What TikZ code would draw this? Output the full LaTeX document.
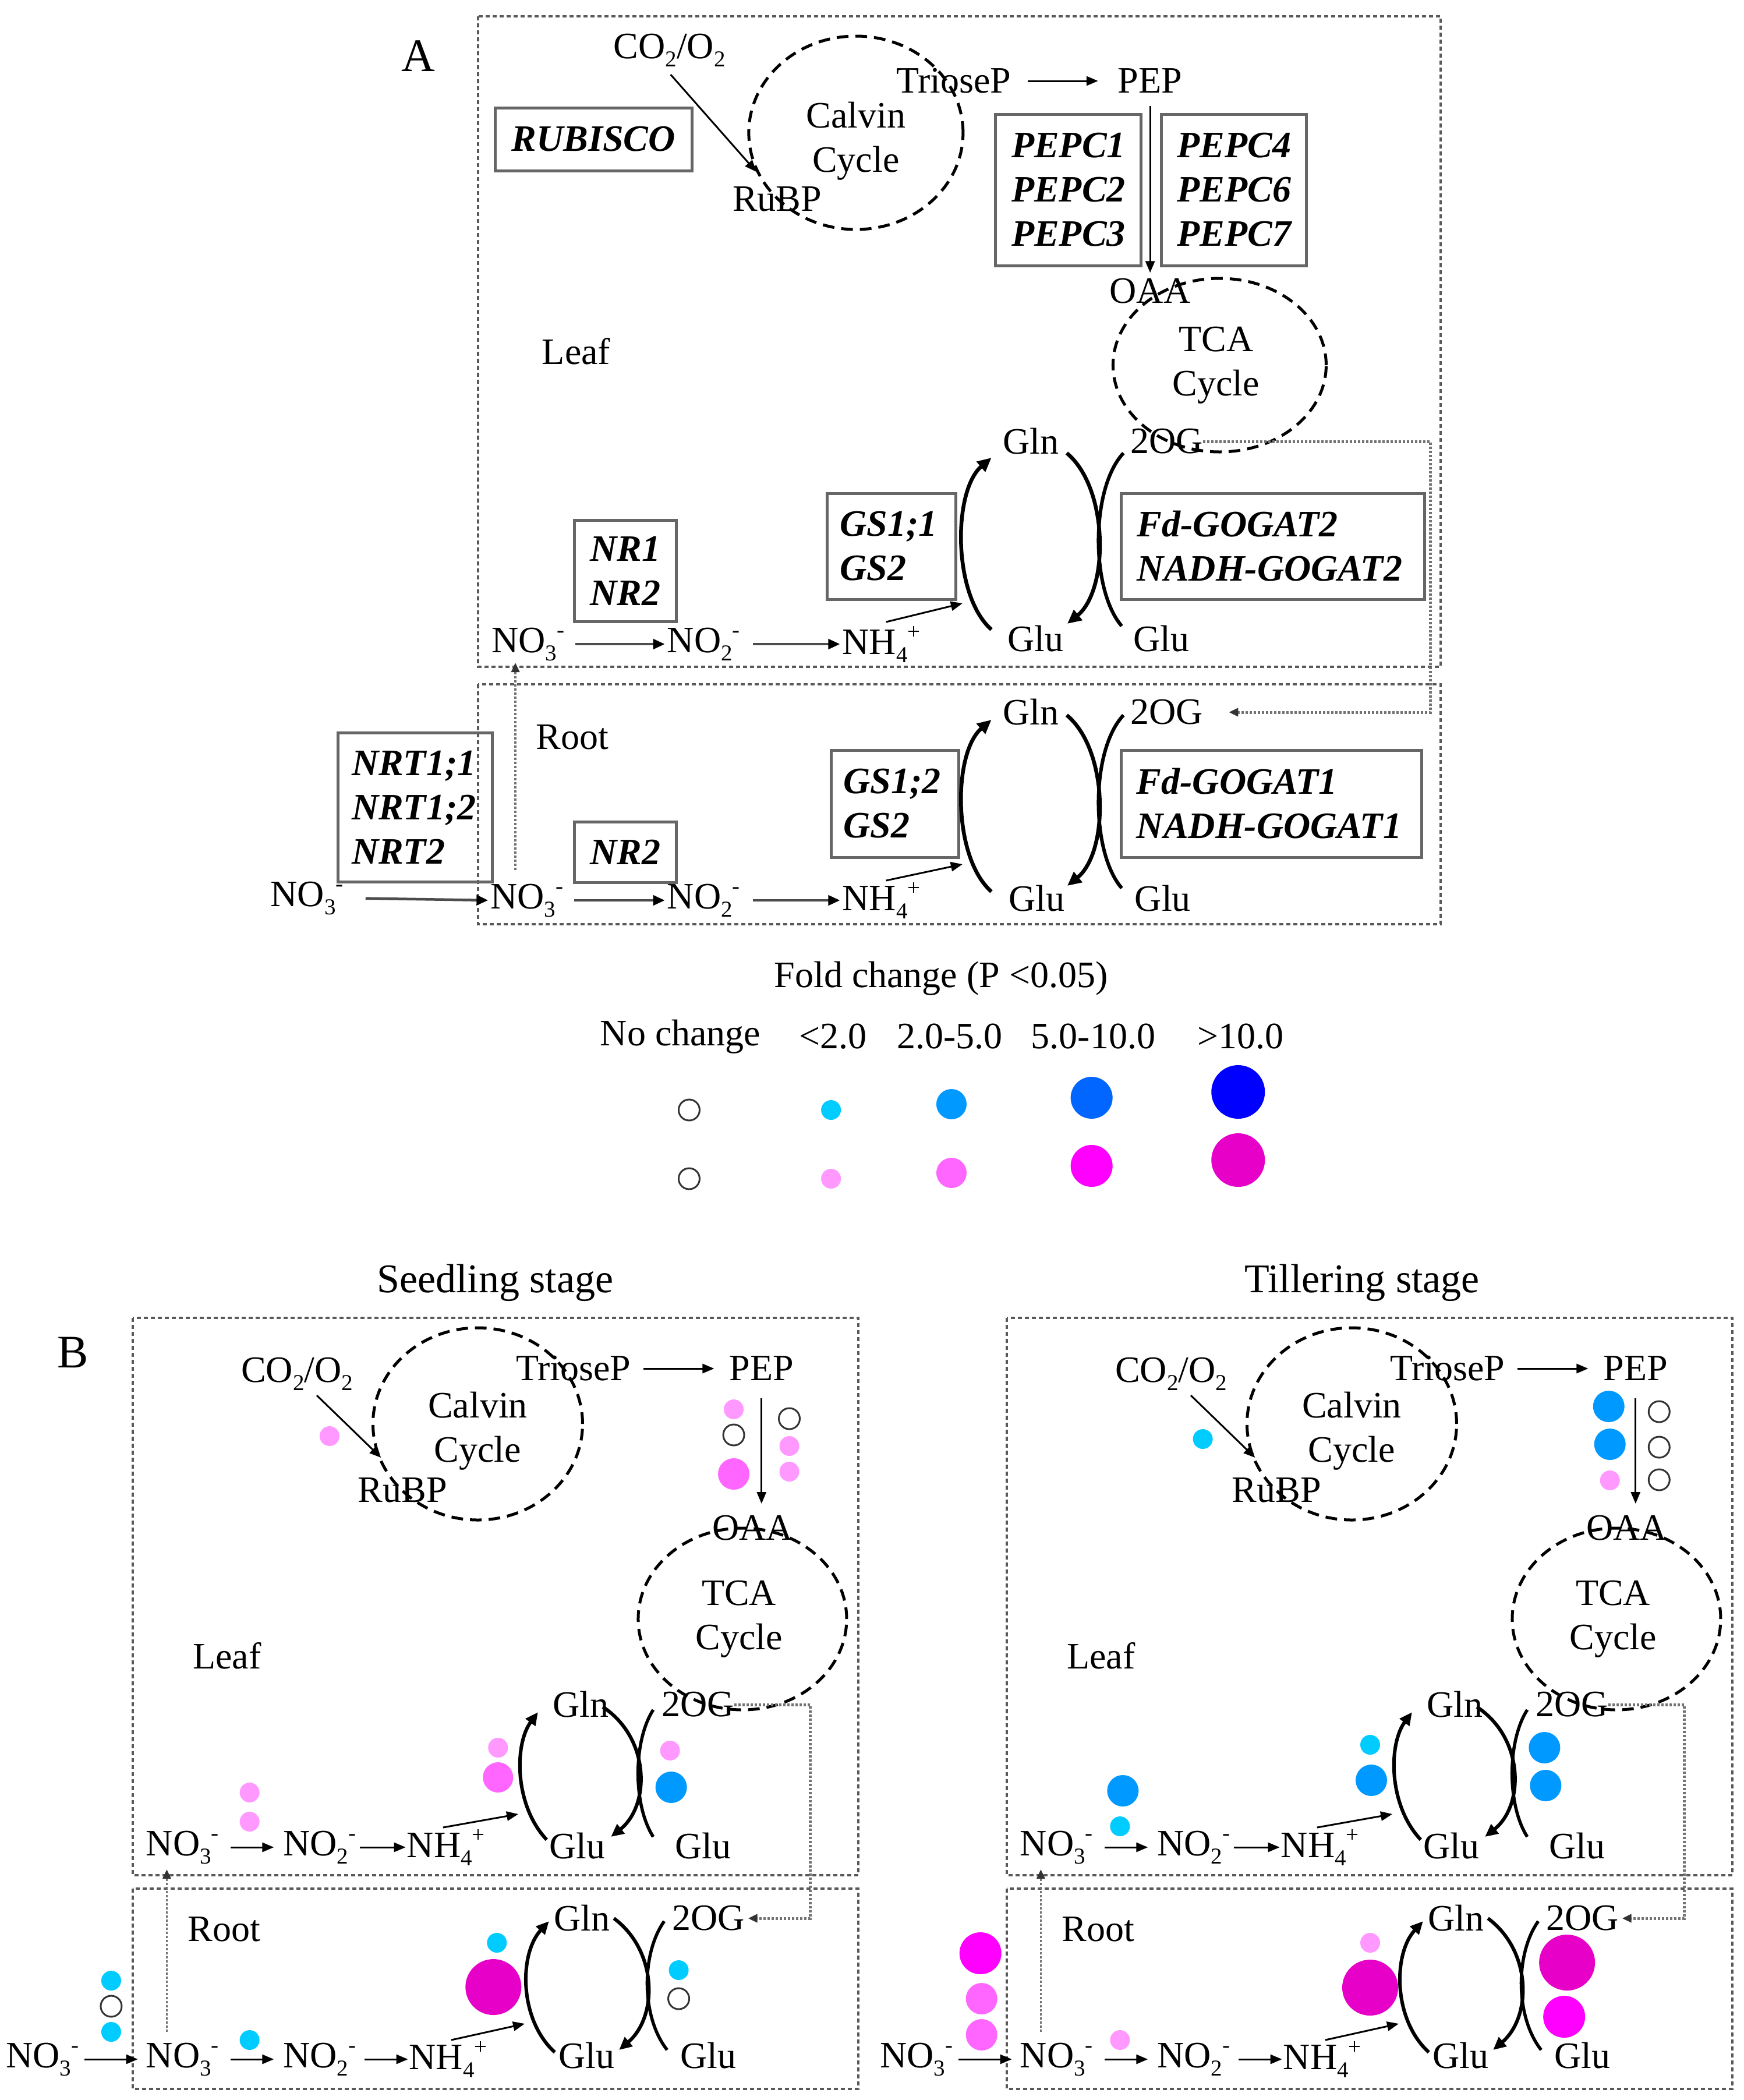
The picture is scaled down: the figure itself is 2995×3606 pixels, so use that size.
\documentclass[tikz,border=0pt]{standalone}
\usepackage{fontspec}
\setmainfont{Liberation Serif}
\usetikzlibrary{arrows.meta}
\definecolor{bS}{HTML}{00CCFF}
\definecolor{bM}{HTML}{0099FF}
\definecolor{bL}{HTML}{0066FF}
\definecolor{bX}{HTML}{0000FF}
\definecolor{pS}{HTML}{FF99FF}
\definecolor{pM}{HTML}{FF66FF}
\definecolor{pL}{HTML}{FF00FF}
\definecolor{pX}{HTML}{E600C8}
\newcommand\fs{\fontsize{64}{76}\selectfont}
\newcommand\mydn[1]{\raisebox{-14pt}{\fontsize{39}{39}\selectfont #1}}
\newcommand\myup[1]{\raisebox{26pt}{\fontsize{39}{39}\selectfont #1}}
\newcommand\nothree{NO\mydn{3}\myup{-}}
\newcommand\notwo{NO\mydn{2}\myup{-}}
\newcommand\nhfour{NH\mydn{4}\myup{+}}
\newcommand\cotwo{CO\mydn{2}/O\mydn{2}}
\newcommand\spot[3]{\fill[#1] (#2) circle (#3pt);}
\newcommand\ospot[1]{\draw[black!80, line width=3pt] (#1) circle (18pt);}
\tikzset{
  txt/.style={font=\fs, inner sep=0pt, anchor=center},
  genebox/.style={draw=black!60, line width=5pt, font=\fs\bfseries\itshape, inner sep=0pt},
  region/.style={draw=black!65, line width=4pt, dash pattern=on 7pt off 5pt},
  cyc/.style={draw=black, line width=5pt, dash pattern=on 20pt off 12pt},
  thinarr/.style={line width=3pt, -{Triangle[length=20pt,width=16pt]}},
  tharr/.style={line width=4.5pt, black!70, -{Triangle[length=20pt,width=17pt,color=black]}},
  dotc/.style={draw=black!55, line width=5pt, dash pattern=on 4pt off 3pt, -{Triangle[length=16pt,width=14pt,color=black!80]}},
  arcarr/.style={line width=6.5pt, -{Triangle[length=24pt,width=22pt]}},
  arcpl/.style={line width=6pt},
  barcarr/.style={line width=6pt, -{Triangle[length=22pt,width=20pt]}},
  barcpl/.style={line width=5.5pt},
}
\newcommand\panelB{%
  \draw[region] (229,2263) rectangle (1482,3220);
  \draw[region] (229,3243) rectangle (1482,3587);
  \node[txt] (co2) at (513,2359) {\cotwo};
  \draw[cyc] (825,2445) ellipse [x radius=180pt, y radius=165pt];
  \node[txt, align=center] (calv) at (825,2457) {Calvin\\Cycle};
  \node[txt] (rubp) at (695,2559) {RuBP};
  \coordinate (c2s) at (547,2396); \coordinate (c2e) at (658,2503);
  \draw[thinarr] (c2s) -- (c2e);
  \node[txt] (trio) at (990,2350) {TrioseP};
  \node[txt] (pep) at (1315,2350) {PEP};
  \draw[thinarr, shorten <=22pt, shorten >=26pt] (trio.east) -- (pep.west);
  \node[txt] (oaa) at (1300,2624) {OAA};
  \coordinate (pepS) at (1315,2401); \coordinate (oaaN) at (1315,2582);
  \draw[thinarr] (pepS) -- (oaaN);
  \draw[cyc] (1282,2780) ellipse [x radius=179pt, y radius=156pt];
  \node[txt, align=center] (tca) at (1276,2780) {TCA\\Cycle};
  \node[txt] (leaf) at (392,2843) {Leaf};
  \node[txt] (gln) at (1003,2927) {Gln};
  \node[txt] (og) at (1205,2927) {2OG};
  \node[txt] (no3) at (315,3172) {\nothree};
  \node[txt] (no2) at (552,3172) {\notwo};
  \node[txt] (nh4) at (770,3172) {\nhfour};
  \draw[thinarr, shorten <=20pt, shorten >=16pt] (no3.east) -- (no2.west);
  \draw[thinarr, shorten <=6pt, shorten >=2pt] (no2.east) -- (nh4.west);
  \coordinate (n4s) at (765,3138); \coordinate (n4e) at (895,3115);
  \draw[thinarr] (n4s) -- (n4e);
  \node[txt] (glu1) at (997,3170) {Glu};
  \node[txt] (glu2) at (1214,3170) {Glu};
  \draw[barcarr] (944,3159) .. controls (888,3100) and (888,2995) .. (929,2940);
  \draw[barcarr] (1041,2931) .. controls (1123,2985) and (1123,3100) .. (1055,3154);
  \draw[barcpl] (1128,2936) .. controls (1093,2990) and (1093,3100) .. (1128,3154);
  \node[txt] (root) at (387,3313) {Root};
  \node[txt] (rgln) at (1005,3294) {Gln};
  \node[txt] (rog) at (1223,3294) {2OG};
  \coordinate (dvx) at (1399,3294);
  \draw[dotc, shorten >=6pt] (og.east) -| (dvx) -- (rog.east);
  \node[txt] (ono3) at (73,3536) {\nothree};
  \node[txt] (rno3) at (315,3536) {\nothree};
  \node[txt] (rno2) at (552,3536) {\notwo};
  \node[txt] (rnh4) at (774,3536) {\nhfour};
  \draw[thinarr, shorten <=10pt, shorten >=14pt] (ono3.east) -- (rno3.west);
  \draw[thinarr, shorten <=20pt, shorten >=16pt] (rno3.east) -- (rno2.west);
  \draw[thinarr, shorten <=14pt, shorten >=2pt] (rno2.east) -- (rnh4.west);
  \coordinate (r4s) at (779,3503); \coordinate (r4e) at (906,3475);
  \draw[thinarr] (r4s) -- (r4e);
  \node[txt] (rglu1) at (1013,3530) {Glu};
  \node[txt] (rglu2) at (1223,3530) {Glu};
  \coordinate (vus) at (288,3489); \coordinate (vue) at (288,3210);
  \draw[dotc, line width=3.5pt] (vus) -- (vue);
  \draw[barcarr] (958,3524) .. controls (896,3468) and (896,3355) .. (948,3299);
  \draw[barcarr] (1060,3294) .. controls (1136,3350) and (1136,3463) .. (1069,3520);
  \draw[barcpl] (1147,3299) .. controls (1107,3355) and (1107,3463) .. (1152,3520);
}
\begin{document}
\begin{tikzpicture}[x=0.9945pt,y=-1pt]
\useasboundingbox (0pt,0pt) rectangle (2995pt,-3606pt);
\fill[white] (0pt,0pt) rectangle (2995pt,-3606pt);
% ---------------- Panel A ----------------
\node[txt, font=\fontsize{80}{90}\selectfont] (labA) at (722,96) {A};
\draw[region] (826,28) rectangle (2488,1145);
\draw[region] (826,1175) rectangle (2488,1587);
\node[txt] (aco2) at (1156,86) {\cotwo};
\draw[cyc] (1478,228) ellipse [x radius=184pt, y radius=166pt];
\node[txt, align=center] (acalv) at (1478,242) {Calvin\\Cycle};
\node[txt] (arubp) at (1342,342) {RuBP};
\coordinate (aco2s) at (1158,128); \coordinate (arubpn) at (1306,295);
\draw[thinarr] (aco2s) -- (arubpn);
\node[txt] (atrio) at (1647,139) {TrioseP};
\node[txt] (apep) at (1986,139) {PEP};
\draw[thinarr, shorten <=28pt, shorten >=34pt] (atrio.east) -- (apep.west);
\node[genebox, minimum width=338pt, minimum height=108pt] (arub) at (1025,239) {RUBISCO};
\node[genebox, minimum width=250pt, minimum height=260pt, align=center] (apepcA) at (1845,326) {PEPC1\\PEPC2\\PEPC3};
\node[genebox, minimum width=249pt, minimum height=260pt, align=center] (apepcB) at (2131,326) {PEPC4\\PEPC6\\PEPC7};
\node[txt] (aoaa) at (1986,500) {OAA};
\draw[thinarr, shorten <=22pt, shorten >=10pt] (apep.south) -- (aoaa.north);
\draw[cyc] (2106,627) ellipse [x radius=183pt, y radius=149pt];
\node[txt, align=center] (atca) at (2100,627) {TCA\\Cycle};
\node[txt] (aleaf) at (995,603) {Leaf};
\node[txt] (agln) at (1780,758) {Gln};
\node[txt] (aog) at (2015,758) {2OG};
\node[genebox, minimum width=221pt, minimum height=182pt, text width=176pt, align=left] (ags) at (1539,938) {GS1;1\\GS2};
\node[genebox, minimum width=521pt, minimum height=182pt, text width=466pt, align=left] (agog) at (2198,938) {Fd-GOGAT2\\NADH-GOGAT2};
\node[genebox, minimum width=175pt, minimum height=174pt, align=center] (anr) at (1080,980) {NR1\\NR2};
\node[txt] (ano3) at (912,1106) {\nothree};
\node[txt] (ano2) at (1215,1106) {\notwo};
\node[txt] (anh4) at (1522,1106) {\nhfour};
\draw[tharr, shorten <=18pt, shorten >=4pt] (ano3.east) -- (ano2.west);
\draw[tharr, shorten <=22pt, shorten >=4pt] (ano2.east) -- (anh4.west);
\coordinate (anhs) at (1530,1068); \coordinate (anhe) at (1662,1036);
\draw[thinarr] (anhs) -- (anhe);
\node[txt] (aglu1) at (1788,1097) {Glu};
\node[txt] (aglu2) at (2005,1097) {Glu};
\draw[arcarr] (1712,1081) .. controls (1645,1023) and (1645,843) .. (1712,786);
\draw[arcarr] (1842,778) .. controls (1915,838) and (1915,1013) .. (1843,1071);
\draw[arcpl] (1940,778) .. controls (1883,838) and (1883,1013) .. (1937,1075);
% root A
\node[txt] (aroot) at (988,1266) {Root};
\node[txt] (argln) at (1780,1223) {Gln};
\node[txt] (arog) at (2015,1223) {2OG};
\coordinate (adv) at (2470,1223);
\draw[dotc, shorten >=44pt] (aog.east) -| (adv) -- (arog.east);
\node[genebox, minimum width=219pt, minimum height=184pt, text width=176pt, align=left] (args) at (1545,1380) {GS1;2\\GS2};
\node[genebox, minimum width=516pt, minimum height=184pt, text width=464pt, align=left] (argog) at (2196,1380) {Fd-GOGAT1\\NADH-GOGAT1};
\node[genebox, minimum width=265pt, minimum height=256pt, text width=218pt, align=left] (anrt) at (717,1386) {NRT1;1\\NRT1;2\\NRT2};
\node[genebox, minimum width=175pt, minimum height=104pt, align=center] (arnr) at (1080,1463) {NR2};
\node[txt] (aono3) at (530,1542) {\nothree};
\node[txt] (arno3) at (910,1546) {\nothree};
\node[txt] (arno2) at (1215,1546) {\notwo};
\node[txt] (arnh4) at (1522,1546) {\nhfour};
\draw[tharr, shorten <=38pt, shorten >=4pt] (aono3.east) -- (arno3.west);
\draw[tharr, shorten <=18pt, shorten >=4pt] (arno3.east) -- (arno2.west);
\draw[tharr, shorten <=22pt, shorten >=4pt] (arno2.east) -- (arnh4.west);
\coordinate (arhs) at (1530,1512); \coordinate (arhe) at (1662,1484);
\draw[thinarr] (arhs) -- (arhe);
\node[txt] (arglu1) at (1790,1543) {Glu};
\node[txt] (arglu2) at (2008,1543) {Glu};
\coordinate (avs) at (890,1494); \coordinate (ave) at (890,1138);
\draw[dotc, line width=3.5pt] (avs) -- (ave);
\draw[arcarr] (1712,1531) .. controls (1645,1473) and (1645,1293) .. (1712,1236);
\draw[arcarr] (1842,1228) .. controls (1915,1288) and (1915,1463) .. (1843,1521);
\draw[arcpl] (1940,1228) .. controls (1883,1288) and (1883,1463) .. (1937,1525);
% ---------------- Legend ----------------
\node[txt] (lgt) at (1625,1680) {Fold change (P <0.05)};
\node[txt] (lg0) at (1175,1780) {No change};
\node[txt] (lg1) at (1438,1780) {<2.0};
\node[txt] (lg2) at (1640,1780) {2.0-5.0};
\node[txt] (lg3) at (1888,1780) {5.0-10.0};
\node[txt] (lg4) at (2142,1780) {>10.0};
\ospot{1190,1906}
\spot{bS}{1435,1906}{17}
\spot{bM}{1643,1896}{26}
\spot{bL}{1885,1885}{36}
\spot{bX}{2138,1875}{46}
\ospot{1190,2024}
\spot{pS}{1435,2024}{17}
\spot{pM}{1643,2014}{26}
\spot{pL}{1885,2002}{36}
\spot{pX}{2138,1992}{46}
% ---------------- Panel B ----------------
\node[txt, font=\fontsize{80}{90}\selectfont] (labB) at (126,2322) {B};
\node[txt, font=\fontsize{70}{80}\selectfont] (tseed) at (855,2203) {Seedling stage};
\node[txt, font=\fontsize{70}{80}\selectfont] (ttill) at (2352,2203) {Tillering stage};
\begin{scope}[name prefix=L-]
\panelB
\end{scope}
\begin{scope}[xshift=1501pt, name prefix=R-]
\panelB
\end{scope}
% seedling dots
\spot{pS}{569,2466}{17}
\spot{pS}{1267,2420}{17} \ospot{1267,2464} \spot{pM}{1267,2531}{27}
\ospot{1363,2436} \spot{pS}{1363,2483}{17} \spot{pS}{1363,2527}{17}
\spot{pS}{431,3078}{17} \spot{pS}{431,3128}{17}
\spot{pS}{860,3001}{17} \spot{pM}{860,3052}{26}
\spot{pS}{1157,3006}{17} \spot{bM}{1159,3069}{27}
\spot{bS}{192,3401}{17} \ospot{192,3445} \spot{bS}{192,3489}{17}
\spot{bS}{431,3503}{17}
\spot{bS}{858,3336}{17} \spot{pX}{852,3412}{48}
\spot{bS}{1172,3383}{17} \ospot{1172,3432}
% tillering dots
\spot{bS}{2077,2471}{17}
\spot{bM}{2778,2415}{27} \spot{bM}{2780,2480}{27} \spot{pS}{2780,2542}{17}
\ospot{2865,2424} \ospot{2865,2485} \ospot{2865,2541}
\spot{bM}{1939,3075}{27} \spot{bS}{1934,3136}{17}
\spot{bS}{2366,2996}{17} \spot{bM}{2368,3057}{27}
\spot{bM}{2667,3001}{27} \spot{bM}{2669,3066}{27}
\spot{pL}{1693,3354}{36} \spot{pM}{1695,3432}{27} \spot{pM}{1695,3494}{27}
\spot{pS}{1934,3503}{17}
\spot{pS}{2366,3336}{17} \spot{pX}{2366,3413}{48}
\spot{pX}{2706,3370}{48} \spot{pL}{2701,3463}{36}
\end{tikzpicture}
\end{document}
